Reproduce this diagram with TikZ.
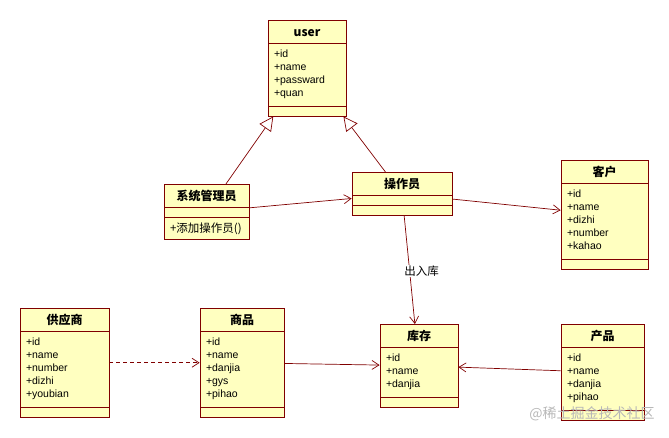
\documentclass[tikz,border=0pt]{standalone}
\usepackage{fontspec}
\setmainfont{Liberation Sans}
\newfontfamily\cjk{Noto Sans CJK SC}
\usetikzlibrary{shapes.multipart,arrows.meta}
\definecolor{umlred}{RGB}{128,0,0}
\definecolor{umlfill}{RGB}{255,255,192}
\newcommand\attrs[1]{\begin{tabular}{@{}l@{}}\rule{0pt}{12.1pt}#1\rule[-6.9pt]{0pt}{6.9pt}\end{tabular}}
\newcommand\ctitle[1]{{\cjk\bfseries\fontsize{12}{14}\selectfont\rule[-4.4pt]{0pt}{18pt}#1}}
\newcommand\cop[1]{{\cjk\fontsize{11.5}{13}\selectfont\rule[-4.1pt]{0pt}{17pt}#1}}
\begin{document}
\begin{tikzpicture}[x=1pt, y=-1pt,
          umlclass/.style={rectangle split, rectangle split parts=3, draw=umlred, line width=0.8pt,
            fill=umlfill, anchor=north, minimum width=#1, inner xsep=6pt, inner ysep=2pt,
            font=\fontsize{10.5}{13}\selectfont, rectangle split part align={center,left,left}},
          assoc/.style={draw=umlred, line width=0.7pt, -{Straight Barb[length=7pt,width=9pt]}},
          gen/.style={draw=umlred, line width=0.7pt, -{Triangle[open,length=14pt,width=14pt,fill=white]}},
          dep/.style={assoc, dash pattern=on 4pt off 3pt}]
          \useasboundingbox (0,0) rectangle (669,438);
          % Klasser: \node(navn)[umlclass=bredde] at (midte, top) {titel \nodepart{two} felter}
          \node(user)[umlclass=78pt] at (307,20) {\ctitle{user}
            \nodepart{two}\attrs{+id\\+name\\+passward\\+quan}};
          \node(admin)[umlclass=85pt] at (206.5,184) {\ctitle{系统管理员}
            \nodepart{three}\cop{+添加操作员()}};
          \node(oper)[umlclass=100pt] at (402,172) {\ctitle{操作员}};
          \node(kehu)[umlclass=87pt] at (604.5,160) {\ctitle{客户}
            \nodepart{two}\attrs{+id\\+name\\+dizhi\\+number\\+kahao}};
          \node(gongying)[umlclass=89pt] at (64.5,308) {\ctitle{供应商}
            \nodepart{two}\attrs{+id\\+name\\+number\\+dizhi\\+youbian}};
          \node(shangpin)[umlclass=84pt] at (242,308) {\ctitle{商品}
            \nodepart{two}\attrs{+id\\+name\\+danjia\\+gys\\+pihao}};
          \node(kucun)[umlclass=78pt] at (419,324) {\ctitle{库存}
            \nodepart{two}\attrs{+id\\+name\\+danjia}};
          \node(chanpin)[umlclass=83pt] at (602.5,324) {\ctitle{产品}
            \nodepart{two}\attrs{+id\\+name\\+danjia\\+pihao}};
          % Forbindelser
          \draw[gen] (admin) -- (user);
          \draw[gen] (oper) -- (user);
          \draw[assoc] (admin) -- (oper);
          \draw[assoc] (oper) -- (kehu);
          \draw[assoc] (oper) -- node(lager)[pos=0.51, xshift=12pt, fill=white, inner sep=1pt,
            font=\cjk\fontsize{11.5}{13}\selectfont] {出入库} (kucun);
          \draw[dep] (gongying) -- (shangpin);
          \draw[assoc] (shangpin) -- (kucun);
          \draw[assoc] (chanpin) -- (kucun);
          \node(mark)[text=black!28, font=\cjk\fontsize{14}{16}\selectfont] at (592,414) {@稀土掘金技术社区};
\end{tikzpicture}
\end{document}
